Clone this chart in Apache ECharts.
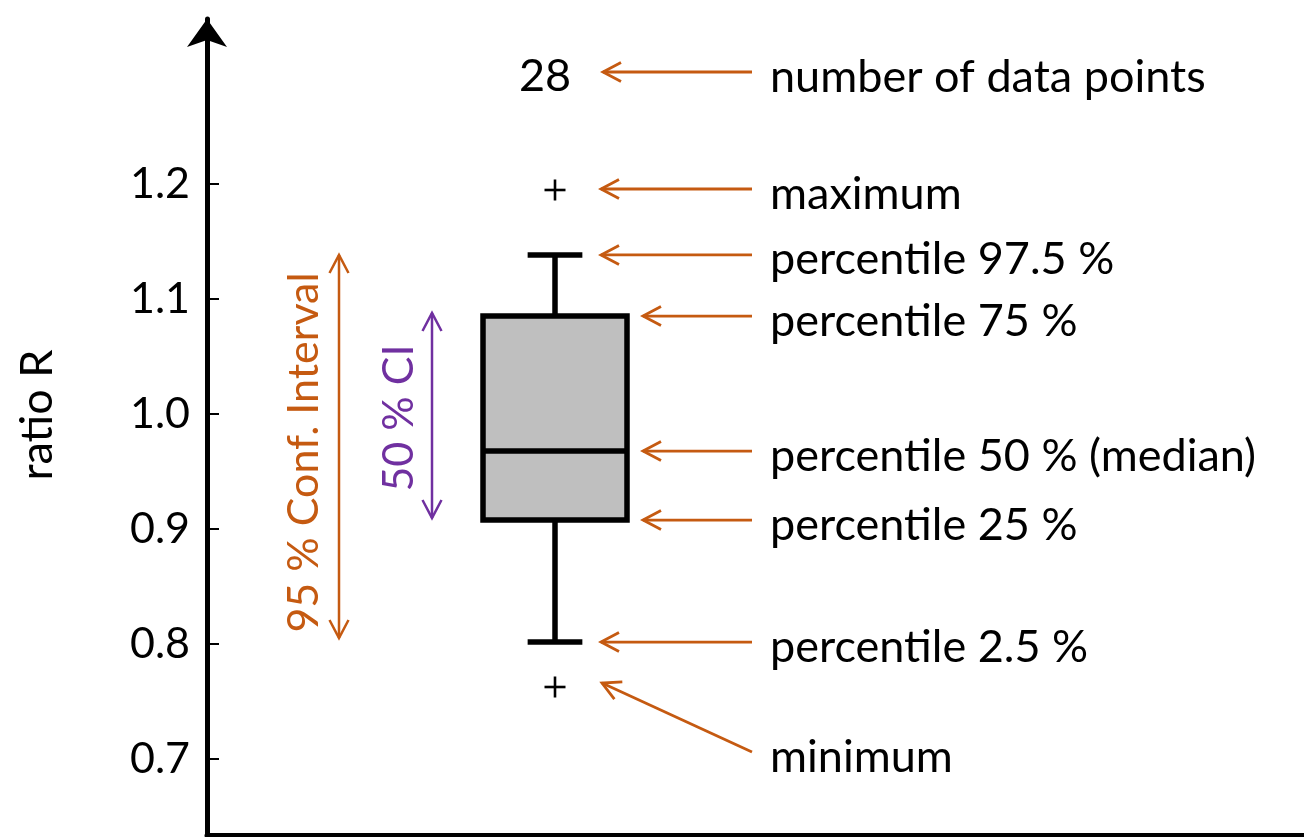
<!DOCTYPE html>
<html><head><meta charset="utf-8">
<script src="https://cdn.jsdelivr.net/npm/echarts@6/dist/echarts.min.js"></script>
<style>html,body{margin:0;padding:0;background:#fff}#c{width:1304px;height:837px}</style>
</head><body><div id="c"></div>
<script>
// ---- data ----
const categories = ['R'];
// [percentile 2.5, 25, 50, 75, 97.5]
const boxValues = [0.8017, 0.9078, 0.9678, 1.0852, 1.1383];
const minimumValue = [0.7626];
const maximumValue = [1.1948];
const dataCount = [28];
const countLevel = [1.2974];
const yTickValues = [0.7, 0.8, 0.9, 1.0, 1.1, 1.2];
const annotationTexts = ['number of data points', 'maximum', 'percentile 97.5 %', 'percentile 75 %',
  'percentile 50 % (median)', 'percentile 25 %', 'percentile 2.5 %', 'minimum'];
const ciTexts = ['95 % Conf. Interval', '50 % CI'];
const axisName = 'ratio R';

// ---- style / layout ----
const FONT = 'Lato';
const FS = 45;       // annotation text
const FS_TICK = 43;  // tick labels
const FS_CI = 43;    // rotated CI texts
const ORANGE = '#C55A11', PURPLE = '#7030A0';
const Y_MIN = 0.6339, Y_MAX = 1.3435;
const TEXT_DY = 5;

const row = [0].concat(boxValues, minimumValue, maximumValue, dataCount, countLevel);

function line(x1, y1, x2, y2, w, color) {
  return { type: 'line', shape: { x1, y1, x2, y2 }, style: { stroke: color || '#000', lineWidth: w } };
}
function head(tx, ty, dx, dy, color, w) {
  const L = 18, H = 9.5;
  const bx = tx - dx * L, by = ty - dy * L, px = -dy, py = dx;
  return { type: 'polyline', shape: { points: [[bx + px * H, by + py * H], [tx, ty], [bx - px * H, by - py * H]] },
    style: { stroke: color, lineWidth: w, fill: null } };
}
function arrow(x1, y1, x2, y2, color, w, both) {
  const d = Math.hypot(x2 - x1, y2 - y1), dx = (x2 - x1) / d, dy = (y2 - y1) / d;
  const out = [line(x1, y1, x2, y2, w, color), head(x2, y2, dx, dy, color, w)];
  if (both) out.push(head(x1, y1, -dx, -dy, color, w));
  return out;
}
function text(str, x, y, color, align, rot, fs) {
  return { type: 'text', x, y, rotation: rot || 0,
    style: { text: str, x: 0, y: 0, fill: color || '#000', font: (fs || FS) + 'px ' + FONT,
      align: align || 'left', verticalAlign: 'middle' } };
}

function renderBox(params, api) {
  const c = api.value(0);
  const band = api.size([1, 0])[0];
  const P = i => api.coord([c, api.value(i)]);
  const lo = P(1), q1 = P(2), med = P(3), q3 = P(4), hi = P(5), mn = P(6), mx = P(7);
  const cx = lo[0], hw = band * 0.25, cw = band * 0.095, lw = 5.5;
  const plus = p => [line(p[0] - 10.5, p[1], p[0] + 10.5, p[1], 2.6), line(p[0], p[1] - 10.5, p[0], p[1] + 10.5, 2.6)];
  return { type: 'group', children: [
    line(cx, hi[1], cx, q3[1], lw), line(cx, q1[1], cx, lo[1], lw),
    line(cx - cw, hi[1], cx + cw, hi[1], lw), line(cx - cw, lo[1], cx + cw, lo[1], lw),
    { type: 'rect', shape: { x: cx - hw, y: q3[1], width: 2 * hw, height: q1[1] - q3[1] },
      style: { fill: '#BFBFBF', stroke: '#000', lineWidth: lw } },
    line(cx - hw, med[1], cx + hw, med[1], lw)
  ].concat(plus(mn), plus(mx)) };
}

function renderNotes(params, api) {
  const c = api.value(0);
  const P = i => api.coord([c, api.value(i)]);
  const lo = P(1), q1 = P(2), med = P(3), q3 = P(4), hi = P(5), mn = P(6), mx = P(7), cnt = P(9);
  const cx = lo[0];
  const tail = cx + 197, lab = cx + 215, w = 2.8;
  const ch = [];
  const single = (y, tipOff, str) => {
    ch.push(...arrow(tail, y, cx + tipOff, y, ORANGE, w));
    ch.push(text(str, lab, y + TEXT_DY));
  };
  single(cnt[1], 48, annotationTexts[0]);
  ch.push(text(String(api.value(8)), cx - 10, cnt[1] + 4, '#000', 'center'));
  single(mx[1] - 1, 46, annotationTexts[1]);
  single(hi[1], 46, annotationTexts[2]);
  single(q3[1], 88, annotationTexts[3]);
  single(med[1], 88, annotationTexts[4]);
  single(q1[1], 88, annotationTexts[5]);
  single(lo[1], 46, annotationTexts[6]);
  ch.push(...arrow(tail, mn[1] + 65, cx + 47, mn[1] - 4, ORANGE, w));
  ch.push(text(annotationTexts[7], lab, mn[1] + 65 + TEXT_DY));
  // confidence interval arrows
  ch.push(...arrow(cx - 216, lo[1] - 4, cx - 216, hi[1], ORANGE, 2.5, true));
  ch.push(text(ciTexts[0], cx - 251, (hi[1] + lo[1]) / 2 + 4, ORANGE, 'center', Math.PI / 2, FS_CI));
  ch.push(...arrow(cx - 123, q1[1] - 2, cx - 123, q3[1] - 3, PURPLE, 2.5, true));
  ch.push(text(ciTexts[1], cx - 156, (q1[1] + q3[1]) / 2, PURPLE, 'center', Math.PI / 2, FS_CI));
  return { type: 'group', children: ch };
}

const chart = echarts.init(document.getElementById('c'), null, { renderer: 'canvas' });
chart.setOption({
  animation: false,
  backgroundColor: '#fff',
  textStyle: { fontFamily: FONT },
  grid: [
    { left: 207, right: 0, top: 19, bottom: 2 },
    { left: 411, width: 288, top: 19, bottom: 2 }
  ],
  xAxis: [
    { type: 'value', gridIndex: 0, min: 0, max: 1,
      axisLine: { show: true, onZero: false, lineStyle: { color: '#000', width: 5 } },
      axisTick: { show: false }, axisLabel: { show: false }, splitLine: { show: false } },
    { type: 'category', gridIndex: 1, data: categories, show: false }
  ],
  yAxis: [
    { type: 'value', gridIndex: 0, min: Y_MIN, max: Y_MAX,
      name: axisName, nameLocation: 'middle', nameRotate: 90, nameGap: 147,
      nameTextStyle: { fontSize: FS, color: '#000', fontFamily: FONT, padding: [0, 0, 0, 24] },
      axisLine: { show: true, onZero: false, symbol: ['none', 'arrow'], symbolSize: [30, 28],
        lineStyle: { color: '#000', width: 5 } },
      axisTick: { show: true, inside: true, length: 12, customValues: yTickValues, lineStyle: { color: '#000', width: 2 } },
      axisLabel: { show: true, customValues: yTickValues, fontSize: FS_TICK, color: '#000', margin: 17, fontFamily: FONT,
        formatter: v => v.toFixed(1) },
      splitLine: { show: false } },
    { type: 'value', gridIndex: 1, min: Y_MIN, max: Y_MAX, show: false, splitLine: { show: false } }
  ],
  series: [
    { type: 'custom', xAxisIndex: 1, yAxisIndex: 1, renderItem: renderBox, data: [row], silent: true, clip: false },
    { type: 'custom', xAxisIndex: 1, yAxisIndex: 1, renderItem: renderNotes, data: [row], silent: true, clip: false }
  ]
});
</script>
</body></html>
